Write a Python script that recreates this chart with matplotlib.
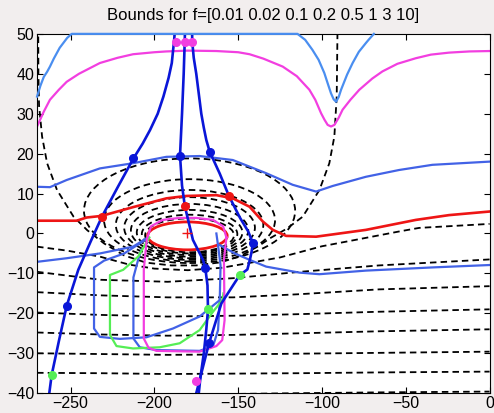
import matplotlib
matplotlib.use("Agg")
import matplotlib.pyplot as plt
from matplotlib.patches import Ellipse

plt.rcParams['font.family'] = ['Liberation Sans', 'DejaVu Sans']

# === colours ===
c_traj = "#0a16d8"    # trajectories
c_sky = "#4a8ef0"     # top bound
c_blue = "#4262e6"    # mid bounds
c_mag = "#f23ee0"
c_red = "#ee1515"
c_green = "#55ee55"

# === dashed contours: closed rings around the vortex ===
ring_cx = -179.0
ring_top = [18.8, 13.6, 10.9, 9.1, 7.4, 5.9, 4.7, 3.8]
ring_bot = [-7.4, -7.0, -6.6, -6.2, -5.8, -5.4, -5.0, -4.7]
ring_hw = [63, 51, 44, 39, 35, 31.5, 28.5, 26.5]

# === dashed contours: open lines ===
u_x = [-269.3, -269.2, -268.8, -267, -264, -258.1, -248.2, -240, -230, -218, -205, -190,
       -175, -160, -148, -138, -131, -121, -111.5, -101.5, -95.6, -92.6, -91.2, -90.7]
u_y = [52, 40, 32, 24.3, 17.6, 10.9, 4.2, 0.8, -2.5, -5.5, -7.3, -8.0,
       -8.0, -7.2, -5.5, -3.2, -1.2, 1.2, 4.2, 10.9, 17.6, 24.3, 34.3, 52]

l1_x = [-270, -252, -232.5, -215, -200, -180, -160, -145, -125, -100, -85, -54, -42, 0]
l1_y = [-3.3, -4.3, -5.8, -7.8, -8.8, -9.2, -8.6, -7.5, -6.0, -3.2, -2.0, 0.5, 1.4, 2.4]

flat_x = [-270, -232, -192, -153, -113, -66, 0]
flat_y = [
    [-9.6, -11.6, -12.1, -11.2, -9.6, -8.0, -6.5],
    [-14.7, -15.5, -16.0, -16.0, -15.2, -14.0, -13.2],
    [-19.8, -20.4, -20.8, -20.6, -20.2, -19.6, -19.0],
    [-24.8, -25.3, -25.6, -25.4, -25.0, -24.5, -24.0],
    [-30.0, -30.2, -30.4, -30.3, -30.1, -29.9, -29.6],
    [-34.9, -35.0, -35.2, -35.1, -35.0, -34.8, -34.6],
    [-40.4, -40.3, -40.3, -40.2, -40.0, -39.8, -39.6],
]

# === bound curves ===
sky_x = [-270, -268, -266, -264, -262.3, -260, -256.5, -252, -249.3, -200, -150, -114.6,
         -110, -105.7, -102, -98.6, -96.5, -94.6, -93, -91.6, -90, -88.6, -85, -81.7,
         -78, -73.8, -72, -69]
sky_y = [34.3, 37, 39.2, 40.5, 41.8, 43.8, 46.5, 49, 50, 50, 50, 50,
         48.5, 46, 43.5, 40.2, 37.5, 35.1, 33.6, 33.0, 34.2, 36, 39.8, 42.7,
         45.5, 47.7, 48.6, 50]

magtop_x = [-270, -266, -262.3, -257, -252.3, -245, -232.5, -222, -212.7, -200, -192.8,
            -180, -163, -150, -143.2, -135, -123.4, -115, -107.5, -104, -100.5, -98.5,
            -96.6, -94.6, -92.6, -90, -87.7, -83, -77.7, -70, -63.9, -55, -44, -35,
            -24.2, -12, 0]
magtop_y = [26.8, 30.5, 33.5, 36, 38, 40, 42.7, 44, 44.9, 45.4, 45.6,
            45.8, 45.7, 45.4, 44.9, 43.8, 41.8, 39.4, 36, 33.5, 30.1, 28.5,
            27.2, 26.8, 27.2, 29, 31, 33.5, 36, 38.8, 40.6, 42.5, 43.9, 44.8,
            45.3, 45.6, 45.7]

b18_x = [-270, -262.3, -252.3, -232.5, -212.7, -192.8, -173, -153.2, -133.3, -117.5,
         -103.5, -93.6, -73.8, -54, -34.1, 0]
b18_y = [11.7, 11.6, 13.4, 16.3, 17.6, 19.2, 19.4, 18.4, 15.1, 12.2,
         10.5, 11.9, 14.2, 15.9, 17.2, 18.0]

red_x = [-270, -246.4, -240.4, -231.5, -212.7, -192.8, -180.9, -163, -153.2, -143.2,
         -135.3, -129.3, -121.4, -103.5, -73.8, -44, -24.2, 0]
red_y = [3.2, 3.2, 4.0, 4.4, 6.6, 8.8, 9.4, 9.6, 8.8, 6.7,
         3.0, 0.9, -0.6, -0.8, 0.9, 3.4, 4.6, 5.5]

# red core ellipse: centre, width, height
core = (-180.3, -0.6, 47.5, 7.0)

bl_left_x = [-270, -252.3, -232.5, -212.7, -204.7]
bl_left_y = [-7.1, -6.2, -5.0, -3.3, -1.2]
bl_right_x = [-161, -152, -143.2, -133.3, -113.5, -101.5, -73.8, -34, 0]
bl_right_y = [-2.9, -5.0, -6.6, -8.3, -9.8, -10.2, -9.3, -8.5, -7.9]

bl_outer_x = [-205, -218, -230, -236, -236, -232.5, -220.6, -204.7, -188.9, -173, -161,
              -160.5, -162, -163]
bl_outer_y = [-1.5, -5, -6.8, -8.5, -23.8, -25.9, -26.4, -26, -23.8, -20.8, -16.7,
              -8, -3, 0]
bl_inner_x = [-207.7, -209.7, -212.5, -212.5, -208.7, -198.8, -173, -165, -162, -161]
bl_inner_y = [-4.1, -6.6, -11, -26.3, -28.5, -29.2, -29.4, -28.2, -24.2, -16.7]

mag_loop_x = [-157, -159, -165, -175, -185, -195, -202, -204.5, -205.5, -206.3, -206.3,
              -203.5, -198.8, -173, -163, -159.5, -158.1, -158.5, -157]
mag_loop_y = [-1.0, 1.8, 3.4, 3.9, 3.9, 3.4, 1.8, -1.5, -5.5, -9, -26.3,
              -28.6, -29.4, -29.6, -28.2, -26.7, -21.7, -6.6, -1.0]

green_x = [-203, -209.7, -218.6, -226.5, -226.5, -222.6, -212.7, -196.8, -184.9, -173,
           -165, -159.5, -158.8]
green_y = [-1.0, -5.8, -9.1, -10.4, -25.4, -28.2, -28.8, -28.5, -27.5, -24.2,
           -19.6, -16.7, -15.0]

# === trajectories ===
tl_x = [-187.7, -188.3, -188.8, -189.6, -191.5, -194.6, -198, -202.6, -207, -212.5, -222,
        -231.3, -238, -245.4, -252.3, -257, -261.3, -262.7]
tl_y = [51, 48, 46, 42.7, 39, 34.3, 30, 25.9, 22.5, 18.8, 11.5,
        4.2, -2, -9.1, -18.1, -27, -35.5, -40]
tm_x = [-181.7, -181.9, -182.5, -183.5, -184.7, -183.5, -181.8, -177, -171, -169.6,
        -168.3, -168, -169, -170.5, -172.5, -173.5]
tm_y = [51, 48, 40, 30, 19.5, 12, 6.8, -1.6, -6.6, -8.7,
        -13, -19, -24, -30, -36, -40]
tr_x = [-177.5, -177.4, -176.5, -175, -173.5, -172, -170.5, -169, -167, -161, -155.5,
        -149, -144, -141.2, -142, -143, -144.5, -149.2, -160, -167.4, -175]
tr_y = [51, 48, 44, 40, 35, 30, 26.5, 23.4, 20.5, 15, 9.4,
        4, 0.5, -2.4, -4.6, -6.6, -9, -10.5, -17.5, -27.5, -40]

# === intersection markers ===
dot_blue_x = [-212.5, -184.7, -167, -141.2, -169.6, -252.3, -167.4]
dot_blue_y = [18.8, 19.5, 20.5, -2.4, -8.7, -18.1, -27.5]
dot_red_x = [-231.3, -181.8, -155.5]
dot_red_y = [4.2, 6.8, 9.4]
dot_green_x = [-149.2, -168, -261.3]
dot_green_y = [-10.5, -19, -35.5]
dot_mag_x = [-187.3, -181.9, -177.4, -174.9]
dot_mag_y = [48, 48, 48, -37]

xticks = [-250, -200, -150, -100, -50, 0]
yticks = [-40, -30, -20, -10, 0, 10, 20, 30, 40, 50]

fig = plt.figure(figsize=(4.94, 4.13), dpi=100, facecolor="#f2eeee")
ax = fig.add_axes([0.075, 0.048, 0.916, 0.870])

dpat = (3.6, 2.3)
dash = dict(color="black", lw=1.3, dashes=dpat)

for top, bot, hw in zip(ring_top, ring_bot, ring_hw):
    ax.add_patch(Ellipse((ring_cx, (top + bot) / 2), 2 * hw, top - bot, fill=False,
                         edgecolor="black", lw=1.3, linestyle=(0, dpat)))
ax.plot(u_x, u_y, **dash)
ax.plot(l1_x, l1_y, **dash)
for fy in flat_y:
    ax.plot(flat_x, fy, **dash)

lw = 1.6
# sky bound sits on the top edge, keep it drawn over the frame
ax.plot(sky_x, sky_y, color=c_sky, lw=lw, zorder=3, clip_on=False)
ax.plot(magtop_x, magtop_y, color=c_mag, lw=lw)
ax.plot(b18_x, b18_y, color=c_blue, lw=lw)
ax.plot(bl_left_x, bl_left_y, color=c_blue, lw=lw)
ax.plot(bl_right_x, bl_right_y, color=c_blue, lw=lw)
ax.plot(bl_outer_x, bl_outer_y, color=c_blue, lw=lw)
ax.plot(bl_inner_x, bl_inner_y, color=c_blue, lw=lw)
ax.plot(green_x, green_y, color=c_green, lw=lw)
ax.plot(mag_loop_x, mag_loop_y, color=c_mag, lw=lw)
ax.plot(red_x, red_y, color=c_red, lw=lw + 0.3)
cx, cy, cw, ch = core
ax.add_patch(Ellipse((cx, cy), cw, ch, fill=False, edgecolor=c_red, lw=lw + 0.4))

for tx, ty in [(tl_x, tl_y), (tm_x, tm_y), (tr_x, tr_y)]:
    ax.plot(tx, ty, color=c_traj, lw=1.9)

ms = 5.5
ax.plot(dot_blue_x, dot_blue_y, "o", color=c_traj, ms=ms)
ax.plot(dot_red_x, dot_red_y, "o", color=c_red, ms=ms)
ax.plot(dot_green_x, dot_green_y, "o", color=c_green, ms=ms)
ax.plot(dot_mag_x, dot_mag_y, "o", color=c_mag, ms=ms, zorder=4)
ax.plot([-180.3], [0], "+", color=c_red, ms=7, mew=1)

ax.set_xlim(-270, 0)
ax.set_ylim(-40, 50)
ax.set_xticks(xticks)
ax.set_yticks(yticks)
ax.tick_params(direction="in", top=True, right=True, length=4, labelsize=11.5, pad=2)
for s in ax.spines.values():
    s.set_linewidth(0.8)
    s.set_zorder(2.5)
ax.set_title("Bounds for f=[0.01 0.02 0.1 0.2 0.5 1 3 10]", fontsize=12, pad=10)

fig.savefig("out.png", dpi=100, facecolor=fig.get_facecolor())
